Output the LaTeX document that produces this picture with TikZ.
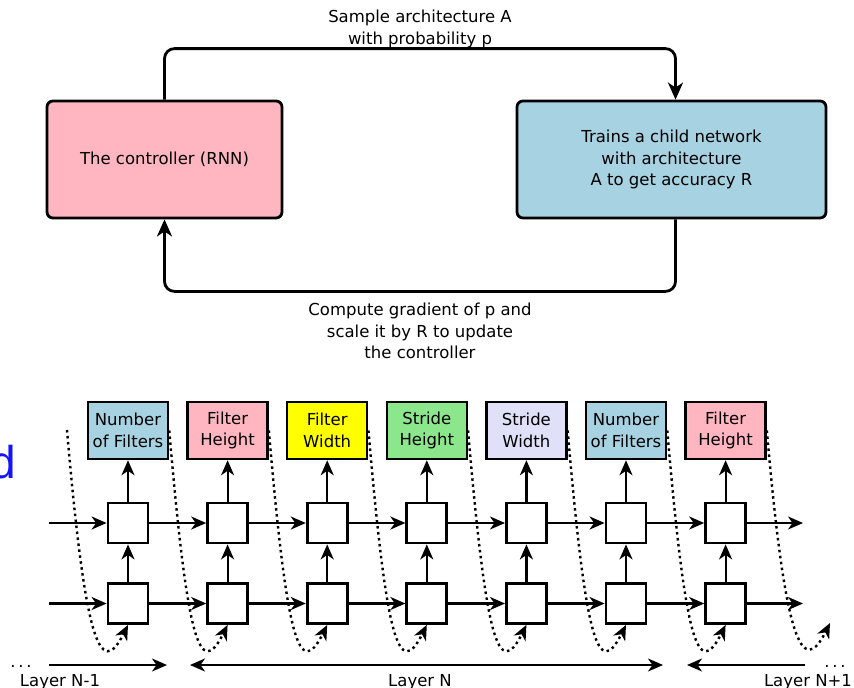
\documentclass[tikz,border=0pt]{standalone}
\usepackage{fontspec}
\setmainfont{DejaVu Sans}
\newfontfamily\slidefont{Liberation Sans}
\usetikzlibrary{arrows.meta,positioning,calc}
\definecolor{ctrlpink}{RGB}{255,182,193}
\definecolor{childblue}{RGB}{167,210,226}
\definecolor{paramyellow}{RGB}{255,255,0}
\definecolor{paramgreen}{RGB}{140,230,140}
\definecolor{paramlav}{RGB}{224,224,248}
\definecolor{slideblue}{RGB}{20,20,250}
\tikzset{every node/.style={font=\fontsize{16.5}{21.5}\selectfont}}
\tikzset{>={Stealth[length=15pt,width=13pt,inset=4.5pt]}}
\tikzstyle{big}=[draw, line width=2.8pt, rounded corners=6pt, minimum height=117pt, align=center]
\tikzstyle{param}=[draw, line width=2.5pt, minimum width=80pt, minimum height=57pt, inner sep=1pt, align=center]
\tikzstyle{cell}=[draw, line width=2.8pt, fill=white, minimum size=40pt, inner sep=0pt]
\tikzstyle{arr}=[->, line width=2.2pt]
\tikzstyle{loop arr}=[-{Stealth[length=17pt,width=15pt,inset=5pt]}, line width=2.8pt, rounded corners=10pt]
\tikzstyle{loopback}=[->, line width=2.4pt, dash pattern=on 2.5pt off 3.5pt]

\begin{document}
\begin{tikzpicture}[x=1pt,y=-1pt]
  \useasboundingbox (0,0) rectangle (854,688);

  % controller loop
  \node[big, fill=ctrlpink, minimum width=235pt] (ctrl) at (164.5,159.5) {The controller (RNN)};
  \node[big, fill=childblue, minimum width=309pt] (child) at (671.5,159.5) {Trains a child network\\with architecture\\A to get accuracy R};
  \draw[loop arr] (ctrl.north) -- ++(0,-51) -| ([xshift=4pt]child.north);
  \draw[loop arr] ([xshift=4pt]child.south) -- ++(0,72) -| (ctrl.south);
  \node[align=center] (sample) at (420,29) {Sample architecture A\\with probability p};
  \node[align=center] (update) at (420,331) {Compute gradient of p and\\scale it by R to update\\the controller};

  \node[font=\slidefont\fontsize{46}{46}\selectfont, text=slideblue, anchor=base east, inner sep=0pt] (d) at (16,478) {d};

  % unrolled controller
  \foreach \i/\lbl/\clr in {1/{Number\\of Filters}/childblue, 2/{Filter\\Height}/ctrlpink,
      3/{Filter\\Width}/paramyellow, 4/{Stride\\Height}/paramgreen, 5/{Stride\\Width}/paramlav,
      6/{Number\\of Filters}/childblue, 7/{Filter\\Height}/ctrlpink} {
    \node[cell] (l_\i) at ({128+99.6*(\i-1)},603.5) {};
    \node[cell] (u_\i) at ($(l_\i)+(0,-80.5)$) {};
    \node[param, fill=\clr] (p_\i) at ($(u_\i)+(0,-92.5)$) {\lbl};
    \draw[arr] (l_\i) -- (u_\i);
    \draw[arr] (u_\i) -- (p_\i);
  }
  \foreach \i [remember=\i as \prev (initially 1)] in {2,...,7} {
    \draw[arr] (u_\prev) -- (u_\i);
    \draw[arr] (l_\prev) -- (l_\i);
    \draw[loopback] (p_\prev.east) .. controls +(18,210) and +(-28,56) .. (l_\i.south);
  }
  \coordinate (in_u) at (49,523);
  \coordinate (in_l) at (49,603.5);
  \coordinate (out_u) at (803,523);
  \coordinate (out_l) at (803,603.5);
  \coordinate (start) at (67,430);
  \coordinate (tail) at (830,623);
  \draw[arr] (in_u) -- (u_1);
  \draw[arr] (in_l) -- (l_1);
  \draw[arr] (u_7) -- (out_u);
  \draw[arr] (l_7) -- (out_l);
  \draw[loopback] (start) .. controls +(18,210) and +(-28,56) .. (l_1.south);
  \draw[loopback] (p_7.east) .. controls +(18,210) and +(-28,56) .. (tail);

  % layers
  \coordinate (a_1) at (49,665);
  \coordinate (a_2) at (167,665);
  \coordinate (a_3) at (190,665);
  \coordinate (a_4) at (663,665);
  \coordinate (a_5) at (687,665);
  \coordinate (a_6) at (805,665);
  \draw[arr] (a_1) -- (a_2);
  \draw[arr, <->] (a_3) -- (a_4);
  \draw[arr] (a_6) -- (a_5);
  \node[anchor=base] (dots_l) at (21,667) {.\,.\,.};
  \node[anchor=base] (dots_r) at (835,667) {.\,.\,.};
  \node[anchor=base] (lay_a) at (60,686) {Layer N-1};
  \node[anchor=base] (lay_b) at (420,686) {Layer N};
  \node[anchor=base] (lay_c) at (808,686) {Layer N+1};
\end{tikzpicture}
\end{document}
